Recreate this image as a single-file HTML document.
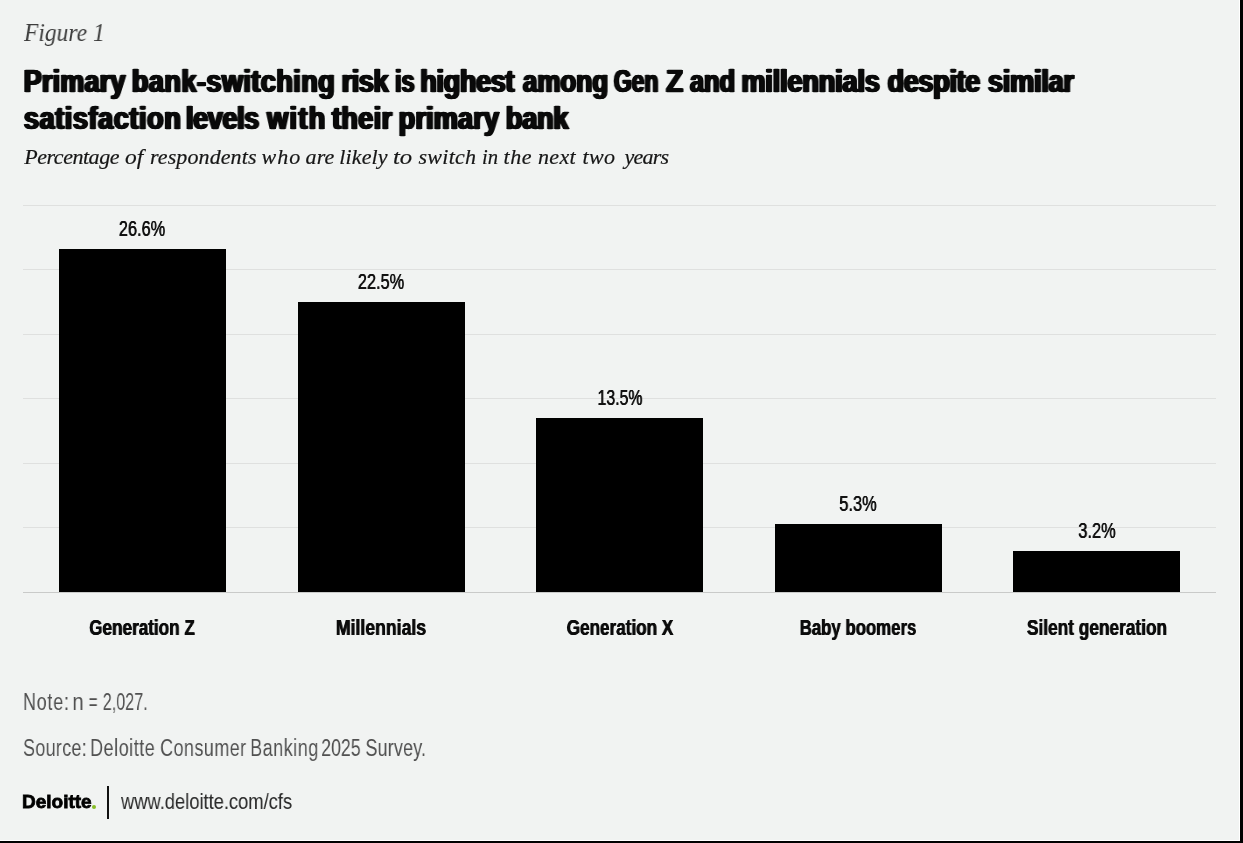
<!DOCTYPE html>
<html>
<head>
<meta charset="utf-8">
<title>Figure 1</title>
<style>
  html, body { margin: 0; padding: 0; }
  body {
    width: 1243px; height: 843px; overflow: hidden; position: relative;
    background: #f1f3f2;
    font-family: "Liberation Sans", sans-serif;
  }
  .abs { position: absolute; }
  .t {
    position: absolute; white-space: nowrap; line-height: 1;
    transform-origin: 0 0; display: block; will-change: transform;
  }
  .title {
    font-size: 31px; font-weight: bold; color: #0a0a0a;
    -webkit-text-stroke: 0.6px #0a0a0a;
    text-shadow: 0.7px 0 0 #0a0a0a, -0.7px 0 0 #0a0a0a, 1.4px 0 0 #0a0a0a, -1.4px 0 0 #0a0a0a;
    transform: scaleX(0.875);
  }
  .title span, .words span { position: absolute; top: 0; left: 0; white-space: nowrap; transform-origin: 0 0; }
  .c { transform-origin: 50% 0; text-align: center; }
  .serif { font-family: "Liberation Serif", serif; font-style: italic; }
  .grid { position: absolute; left: 23px; width: 1193px; height: 1px; background: #dfe0df; }
  .bar { position: absolute; background: #000; }
  .val { font-size: 22px; color: #111; text-shadow: 0.35px 0 0 #111, -0.35px 0 0 #111; }
  .cat { font-size: 22px; font-weight: bold; color: #0c0c0c; text-shadow: 0.45px 0 0 #0c0c0c, -0.45px 0 0 #0c0c0c; }
  .foot { font-size: 23px; color: #505050; transform: scaleX(0.78); }
</style>
</head>
<body>

<!-- frame edges (right / bottom) -->
<div class="abs" style="left:1239px; top:0; width:1px; height:841px; background:#fff;"></div>
<div class="abs" style="left:0; top:840px; width:1240px; height:1px; background:#fff;"></div>
<div class="abs" style="left:1240px; top:0; width:3px; height:843px; background:#000;"></div>
<div class="abs" style="left:0; top:841px; width:1243px; height:2px; background:#000;"></div>

<!-- header -->
<div id="fig" class="t serif" style="left:24px; top:20.7px; font-size:24.5px; color:#3c3c3c; transform:scaleX(0.958);">Figure 1</div>
<!-- T1-BEGIN -->
<div id="t1" class="t title" style="left:24px; top:66.0px; ">
<span id="t1_0" style="left:-0.38px; letter-spacing:0.139px;">Primary</span>
<span id="t1_1" style="left:123.28px; letter-spacing:0.481px;">bank-switching</span>
<span id="t1_2" style="left:363.01px; letter-spacing:-0.514px;">risk</span>
<span id="t1_3" style="left:423.69px; letter-spacing:0.000px; transform:scaleX(0.8668);">is</span>
<span id="t1_4" style="left:452.89px; letter-spacing:-0.431px;">highest</span>
<span id="t1_5" style="left:570.10px; letter-spacing:0.000px; transform:scaleX(0.9603);">among</span>
<span id="t1_6" style="left:674.08px; letter-spacing:0.000px; transform:scaleX(0.8476);">Gen</span>
<span id="t1_7" style="left:734.28px; letter-spacing:0.000px; transform:scaleX(1.0061);">Z</span>
<span id="t1_8" style="left:760.85px; letter-spacing:0.000px; transform:scaleX(0.9380);">and</span>
<span id="t1_9" style="left:819.79px; letter-spacing:-0.182px;">millennials</span>
<span id="t1_10" style="left:986.88px; letter-spacing:-0.425px;">despite</span>
<span id="t1_11" style="left:1101.70px; letter-spacing:-0.293px;">similar</span>
</div>
<!-- T1-END -->
<!-- T2-BEGIN -->
<div id="t2" class="t title" style="left:24px; top:103.4px; ">
<span id="t2_0" style="left:-0.19px; letter-spacing:0.646px;">satisfaction</span>
<span id="t2_1" style="left:185.03px; letter-spacing:-0.462px;">levels</span>
<span id="t2_2" style="left:277.88px; letter-spacing:1.479px;">with</span>
<span id="t2_3" style="left:351.99px; letter-spacing:0.365px;">their</span>
<span id="t2_4" style="left:428.22px; letter-spacing:0.138px;">primary</span>
<span id="t2_5" style="left:550.60px; letter-spacing:-0.234px;">bank</span>
</div>
<!-- T2-END -->
<!-- SUB-BEGIN -->
<div id="sub" class="t serif words" style="left:24px; top:146px; font-size:22px; color:#161616; -webkit-text-stroke:0.2px #161616;">
<span id="sub_0" style="left:0.33px; letter-spacing:-0.471px;">Percentage</span>
<span id="sub_1" style="left:101.40px; letter-spacing:0.000px; transform:scaleX(1.0642);">of</span>
<span id="sub_2" style="left:126.00px; letter-spacing:0.095px;">respondents</span>
<span id="sub_3" style="left:237.57px; letter-spacing:0.946px;">who</span>
<span id="sub_4" style="left:281.59px; letter-spacing:0.120px;">are</span>
<span id="sub_5" style="left:315.31px; letter-spacing:0.114px;">likely</span>
<span id="sub_6" style="left:369.06px; letter-spacing:0.000px; transform:scaleX(1.1223);">to</span>
<span id="sub_7" style="left:394.48px; letter-spacing:0.271px;">switch</span>
<span id="sub_8" style="left:457.50px; letter-spacing:0.000px; transform:scaleX(0.9373);">in</span>
<span id="sub_9" style="left:479.45px; letter-spacing:0.608px;">the</span>
<span id="sub_10" style="left:513.98px; letter-spacing:0.374px;">next</span>
<span id="sub_11" style="left:558.45px; letter-spacing:0.441px;">two</span>
<span id="sub_12" style="left:600.45px; letter-spacing:-0.738px;">years</span>
</div>
<!-- SUB-END -->

<!-- gridlines -->
<div class="grid" style="top:205px;"></div>
<div class="grid" style="top:269px;"></div>
<div class="grid" style="top:334px;"></div>
<div class="grid" style="top:398px;"></div>
<div class="grid" style="top:463px;"></div>
<div class="grid" style="top:527px;"></div>
<div class="grid" style="top:592px; background:#c9cac9;"></div>

<!-- bars -->
<div class="bar" style="left:59px;   top:249px; width:167px; height:343px;"></div>
<div class="bar" style="left:297.5px; top:302px; width:167px; height:290px;"></div>
<div class="bar" style="left:536px;  top:418px; width:167px; height:174px;"></div>
<div class="bar" style="left:774.5px; top:524px; width:167px; height:68px;"></div>
<div class="bar" style="left:1013px; top:551px; width:167px; height:41px;"></div>

<!-- value labels -->
<div id="v1" class="t c val" style="left:42px;   width:200px; top:217.8px; transform:scaleX(0.745);">26.6%</div>
<div id="v2" class="t c val" style="left:281px;  width:200px; top:270.5px; transform:scaleX(0.745);">22.5%</div>
<div id="v3" class="t c val" style="left:519.5px; width:200px; top:386.8px; transform:scaleX(0.72);">13.5%</div>
<div id="v4" class="t c val" style="left:758px;  width:200px; top:492.8px; transform:scaleX(0.745);">5.3%</div>
<div id="v5" class="t c val" style="left:996.7px; width:200px; top:519.8px; transform:scaleX(0.745);">3.2%</div>

<!-- category labels -->
<div id="c1" class="t c cat" style="left:42px;   width:200px; top:616.5px; transform:scaleX(0.779);">Generation Z</div>
<div id="c2" class="t c cat" style="left:281px;  width:200px; top:616.5px; transform:scaleX(0.802);">Millennials</div>
<div id="c3" class="t c cat" style="left:519.5px; width:200px; top:616.5px; transform:scaleX(0.778);">Generation X</div>
<div id="c4" class="t c cat" style="left:758px;  width:200px; top:616.5px; transform:scaleX(0.764);">Baby boomers</div>
<div id="c5" class="t c cat" style="left:996.7px; width:200px; top:616.5px; transform:scaleX(0.785);">Silent generation</div>

<!-- footer -->
<!-- NOTE-BEGIN -->
<div id="note" class="t foot words" style="left:24px; top:690.6px; ">
<span id="note_0" style="left:-1.28px; letter-spacing:0.963px;">Note:</span>
<span id="note_1" style="left:62.19px; letter-spacing:0.000px; transform:scaleX(1.1329);">n</span>
<span id="note_2" style="left:83.24px; letter-spacing:0.000px; transform:scaleX(0.8427);">=</span>
<span id="note_3" style="left:100.77px; letter-spacing:0.000px; transform:scaleX(0.8998);">2,027.</span>
</div>
<!-- NOTE-END -->
<!-- SRC-BEGIN -->
<div id="src" class="t foot words" style="left:24px; top:736.5px; ">
<span id="src_0" style="left:-1.33px; letter-spacing:0.421px;">Source:</span>
<span id="src_1" style="left:84.83px; letter-spacing:0.680px;">Deloitte</span>
<span id="src_2" style="left:174.53px; letter-spacing:0.596px;">Consumer</span>
<span id="src_3" style="left:289.96px; letter-spacing:0.684px;">Banking</span>
<span id="src_4" style="left:381.43px; letter-spacing:0.000px; transform:scaleX(0.9885);">2025</span>
<span id="src_5" style="left:437.70px; letter-spacing:0.239px;">Survey.</span>
</div>
<!-- SRC-END -->

<div id="logo" class="t" style="left:22px; top:792.1px; font-size:19px; font-weight:bold; color:#000; -webkit-text-stroke:0.8px #000;">Deloitte</div>
<div id="dot" class="abs" style="left:91.7px; top:804.8px; width:4.2px; height:4.2px; border-radius:50%; background:#86bc25;"></div>
<div id="vline" class="abs" style="left:107px; top:786px; width:1.6px; height:33px; background:#111;"></div>
<div id="url" class="t" style="left:120.5px; top:790.5px; font-size:22px; color:#2a2a2a; transform:scaleX(0.833);">www.deloitte.com/cfs</div>

</body>
</html>
